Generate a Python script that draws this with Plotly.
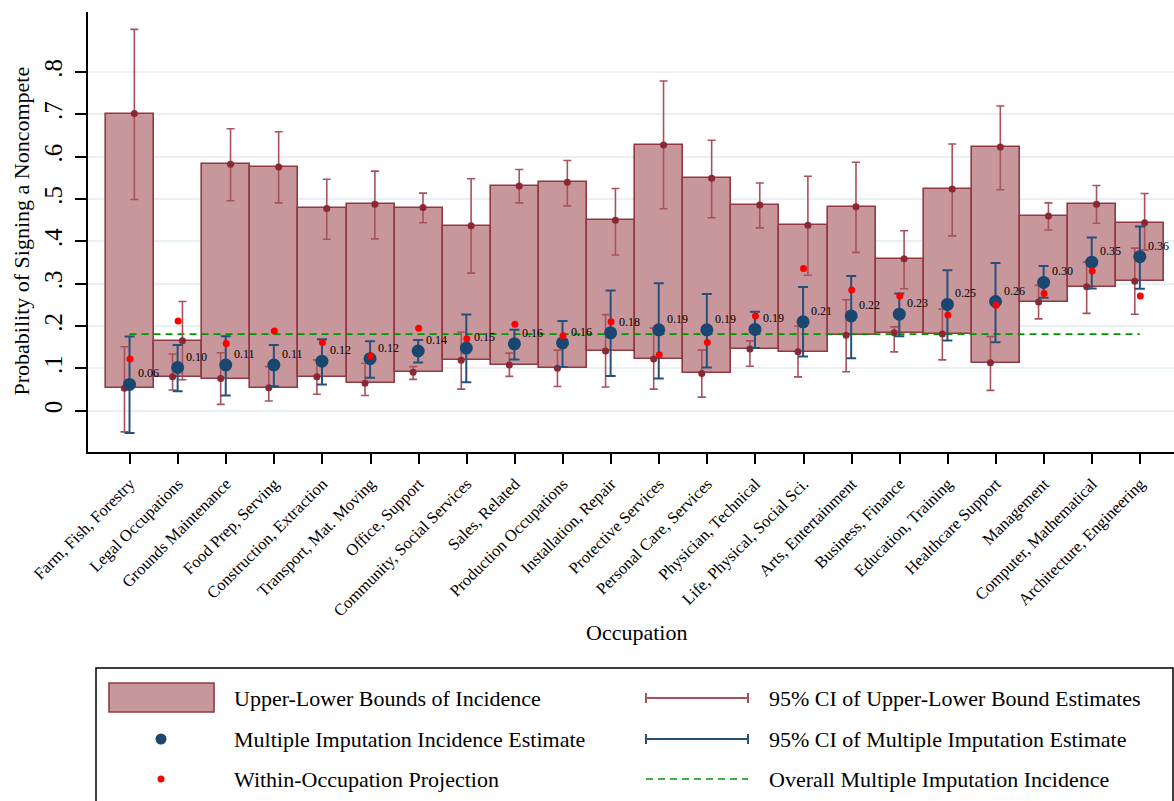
import plotly.graph_objects as go

categories = ["Farm, Fish, Forestry", "Legal Occupations", "Grounds Maintenance", "Food Prep, Serving",
              "Construction, Extraction", "Transport, Mat. Moving", "Office, Support",
              "Community, Social Services", "Sales, Related", "Production Occupations",
              "Installation, Repair", "Protective Services", "Personal Care, Services",
              "Physician, Technical", "Life, Physical, Social Sci.", "Arts, Entertainment",
              "Business, Finance", "Education, Training", "Healthcare Support", "Management",
              "Computer, Mathematical", "Architecture, Engineering"]

upper = [0.702, 0.165, 0.582, 0.576, 0.478, 0.488, 0.480, 0.437, 0.531, 0.540, 0.450,
         0.628, 0.549, 0.486, 0.438, 0.482, 0.359, 0.524, 0.623, 0.460, 0.488, 0.444]
upper_ci_lo = [0.499, 0.073, 0.496, 0.491, 0.405, 0.406, 0.444, 0.325, 0.491, 0.484, 0.368,
               0.477, 0.456, 0.432, 0.320, 0.374, 0.288, 0.413, 0.522, 0.427, 0.443, 0.380]
upper_ci_hi = [0.901, 0.258, 0.666, 0.659, 0.547, 0.566, 0.514, 0.548, 0.570, 0.591, 0.525,
               0.779, 0.639, 0.538, 0.554, 0.587, 0.425, 0.630, 0.720, 0.491, 0.532, 0.513]

lower = [0.053, 0.080, 0.076, 0.054, 0.080, 0.065, 0.091, 0.119, 0.108, 0.100, 0.141,
         0.122, 0.088, 0.146, 0.139, 0.178, 0.184, 0.181, 0.113, 0.257, 0.293, 0.306]
lower_ci_lo = [-0.050, 0.049, 0.015, 0.023, 0.039, 0.036, 0.074, 0.051, 0.081, 0.057, 0.056,
               0.051, 0.032, 0.105, 0.080, 0.092, 0.139, 0.120, 0.048, 0.217, 0.230, 0.228]
lower_ci_hi = [0.151, 0.134, 0.137, 0.104, 0.120, 0.112, 0.104, 0.186, 0.136, 0.143, 0.227,
               0.195, 0.143, 0.165, 0.200, 0.262, 0.198, 0.240, 0.175, 0.296, 0.351, 0.384]

mi_estimate = [0.062, 0.102, 0.108, 0.108, 0.117, 0.123, 0.141, 0.148, 0.158, 0.160, 0.184,
               0.191, 0.191, 0.192, 0.210, 0.224, 0.228, 0.251, 0.258, 0.303, 0.351, 0.364]
mi_ci_lo = [-0.053, 0.046, 0.036, 0.058, 0.062, 0.078, 0.114, 0.067, 0.121, 0.103, 0.082,
            0.076, 0.102, 0.148, 0.128, 0.124, 0.176, 0.166, 0.162, 0.267, 0.289, 0.288]
mi_ci_hi = [0.175, 0.155, 0.176, 0.155, 0.169, 0.164, 0.167, 0.227, 0.191, 0.212, 0.284,
            0.301, 0.276, 0.234, 0.292, 0.318, 0.277, 0.332, 0.349, 0.342, 0.409, 0.435]

projection = [0.122, 0.212, 0.159, 0.188, 0.161, 0.130, 0.195, 0.170, 0.204, 0.177, 0.210,
              0.132, 0.161, 0.224, 0.336, 0.285, 0.271, 0.226, 0.249, 0.277, 0.330, 0.271]

overall_mi = 0.181

y_tick_vals = [0, 0.1, 0.2, 0.3, 0.4, 0.5, 0.6, 0.7, 0.8]
y_tick_text = ["0", ".1", ".2", ".3", ".4", ".5", ".6", ".7", ".8"]

legend_labels = ["Upper-Lower Bounds of Incidence", "95% CI of Upper-Lower Bound Estimates",
                 "Multiple Imputation Incidence Estimate", "95% CI of Multiple Imputation Estimate",
                 "Within-Occupation Projection", "Overall Multiple Imputation Incidence"]

# ---------------- styling / layout constants ----------------
FONT = "Liberation Serif, Times New Roman, serif"
BAR_FILL = "rgb(200,151,155)"
BAR_LINE = "rgb(146,56,66)"
UL_CI = "rgb(168,82,92)"
UL_DOT = "rgb(138,40,52)"
NAVY = "rgb(26,71,111)"
NAVY_CI = "rgb(38,80,124)"
RED = "rgb(255,0,0)"
GREEN = "rgb(0,150,0)"
GRID = "rgb(232,240,242)"

W, H = 1174, 801
L, R, T, B = 88, 0, 12, 349
PW, PH = W - L - R, H - T - B


def px(x):
    return (x - L) / PW


def py(y):
    return (H - B - y) / PH


xs = list(range(len(categories)))
x_up = [x + 0.09 for x in xs]
x_lo = [x - 0.115 for x in xs]
x_mi = [x - 0.01 for x in xs]

fig = go.Figure()

# floating bars: upper-lower bounds
fig.add_trace(go.Bar(
    x=xs, base=lower, y=[u - l for u, l in zip(upper, lower)], width=1.0,
    marker=dict(color=BAR_FILL, line=dict(color=BAR_LINE, width=1.6)),
    showlegend=False, hoverinfo="skip"))

# overall MI line
fig.add_trace(go.Scatter(
    x=[x_mi[0], x_mi[-1]], y=[overall_mi, overall_mi], mode="lines",
    line=dict(color=GREEN, width=1.6, dash="7px,5px"), showlegend=False))

# upper bound CI
fig.add_trace(go.Scatter(
    x=x_up, y=upper, mode="markers",
    marker=dict(color=UL_DOT, size=7),
    error_y=dict(type="data", symmetric=False,
                 array=[h - u for h, u in zip(upper_ci_hi, upper)],
                 arrayminus=[u - l for u, l in zip(upper, upper_ci_lo)],
                 color=UL_CI, thickness=1.6, width=4),
    showlegend=False))

# lower bound CI
fig.add_trace(go.Scatter(
    x=x_lo, y=lower, mode="markers",
    marker=dict(color=UL_DOT, size=7),
    error_y=dict(type="data", symmetric=False,
                 array=[h - u for h, u in zip(lower_ci_hi, lower)],
                 arrayminus=[u - l for u, l in zip(lower, lower_ci_lo)],
                 color=UL_CI, thickness=1.6, width=4),
    showlegend=False))

# MI estimate
fig.add_trace(go.Scatter(
    x=x_mi, y=mi_estimate, mode="markers",
    marker=dict(color=NAVY, size=13),
    error_y=dict(type="data", symmetric=False,
                 array=[h - u for h, u in zip(mi_ci_hi, mi_estimate)],
                 arrayminus=[u - l for u, l in zip(mi_estimate, mi_ci_lo)],
                 color=NAVY_CI, thickness=2, width=5),
    showlegend=False))

# projection
fig.add_trace(go.Scatter(
    x=xs, y=projection, mode="markers",
    marker=dict(color=RED, size=7), showlegend=False))

annotations = []
for x, v in zip(x_mi, mi_estimate):
    annotations.append(dict(x=x, y=v, xref="x", yref="y", text=f"{v:.2f}", showarrow=False,
                            xanchor="left", yanchor="middle", xshift=6, yshift=11,
                            font=dict(family=FONT, size=12, color="black")))

# axis titles
annotations.append(dict(x=px(21.5), y=py(231), xref="paper", yref="paper",
                        text="Probability of Signing a Noncompete", textangle=-90,
                        showarrow=False, xanchor="center", yanchor="middle",
                        font=dict(family=FONT, size=22, color="black")))
annotations.append(dict(x=px(636), y=py(632), xref="paper", yref="paper",
                        text="Occupation", showarrow=False, xanchor="center", yanchor="middle",
                        font=dict(family=FONT, size=22, color="black")))

# legend (custom box)
shapes = []
shapes.append(dict(type="rect", xref="paper", yref="paper", x0=px(96), x1=px(1173),
                   y0=py(668), y1=py(815), line=dict(color="black", width=1.5),
                   fillcolor="rgba(0,0,0,0)", layer="above"))
rows_y = [698, 739, 779]
col1_sym_x = 161
col1_txt_x = 232
col2_l, col2_r = 646, 748
col2_txt_x = 767
# row 1 col1 swatch
shapes.append(dict(type="rect", xref="paper", yref="paper", x0=px(109), x1=px(214),
                   y0=py(683), y1=py(712), fillcolor=BAR_FILL,
                   line=dict(color=BAR_LINE, width=1.6)))
# row 2 col1 navy dot
shapes.append(dict(type="circle", xref="paper", yref="paper",
                   x0=px(col1_sym_x - 5.5), x1=px(col1_sym_x + 5.5),
                   y0=py(rows_y[1] - 5.5), y1=py(rows_y[1] + 5.5),
                   fillcolor=NAVY, line=dict(width=0)))
# row 3 col1 red dot
shapes.append(dict(type="circle", xref="paper", yref="paper",
                   x0=px(col1_sym_x - 3.5), x1=px(col1_sym_x + 3.5),
                   y0=py(rows_y[2] - 3.5), y1=py(rows_y[2] + 3.5),
                   fillcolor=RED, line=dict(width=0)))
# col2 CI symbols
for ry, col, cap in [(rows_y[0], UL_CI, 5), (rows_y[1], NAVY_CI, 5)]:
    shapes.append(dict(type="line", xref="paper", yref="paper", x0=px(col2_l), x1=px(col2_r),
                       y0=py(ry), y1=py(ry), line=dict(color=col, width=2)))
    for cx in (col2_l, col2_r):
        shapes.append(dict(type="line", xref="paper", yref="paper", x0=px(cx), x1=px(cx),
                           y0=py(ry - cap), y1=py(ry + cap), line=dict(color=col, width=2)))
shapes.append(dict(type="line", xref="paper", yref="paper", x0=px(col2_l), x1=px(col2_r),
                   y0=py(rows_y[2]), y1=py(rows_y[2]),
                   line=dict(color=GREEN, width=1.6, dash="7px,5px")))

for i, lab in enumerate(legend_labels):
    r, c = divmod(i, 2)
    annotations.append(dict(x=px(col1_txt_x if c == 0 else col2_txt_x), y=py(rows_y[r]),
                            xref="paper", yref="paper", text=lab, showarrow=False,
                            xanchor="left", yanchor="middle",
                            font=dict(family=FONT, size=22, color="black")))

fig.update_layout(
    width=W, height=H,
    margin=dict(l=L, r=R, t=T, b=B, pad=0),
    paper_bgcolor="white", plot_bgcolor="white",
    bargap=0,
    showlegend=False,
    annotations=annotations,
    shapes=shapes,
    xaxis=dict(range=[-0.873, 21.70], tickvals=xs, ticktext=categories, tickangle=-45,
               tickfont=dict(family=FONT, size=16.5, color="black"),
               ticks="outside", ticklen=10, tickwidth=1.5, tickcolor="black",
               ticklabelstandoff=4,
               showline=True, linecolor="black", linewidth=1.5,
               showgrid=False, zeroline=False),
    yaxis=dict(range=[-0.0976, 0.942], tickvals=y_tick_vals, ticktext=y_tick_text,
               tickangle=-90, tickfont=dict(family=FONT, size=25, color="black"),
               ticks="outside", ticklen=11, tickwidth=1.5, tickcolor="black",
               ticklabelstandoff=3,
               showline=True, linecolor="black", linewidth=1.5,
               showgrid=True, gridcolor=GRID, gridwidth=2, zeroline=False),
)

fig.write_html("out.html", config={"displayModeBar": False},
               post_script="document.body.style.margin='0';document.body.style.overflow='hidden';")
